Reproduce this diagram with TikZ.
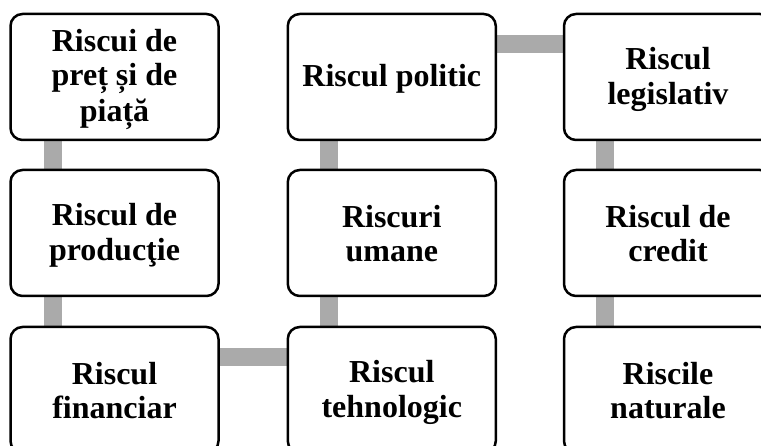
\documentclass[tikz,border=0pt]{standalone}
\usepackage{fontspec}
\setmainfont{Liberation Serif}
\usetikzlibrary{backgrounds}
\definecolor{conngray}{RGB}{170,170,170}
\newcommand\lstrut{\rule[-3.85pt]{0pt}{30.65pt}}
\tikzset{
  riskbox/.style={draw=black, line width=2.5pt, fill=white, rounded corners=12pt,
    minimum width=208pt, minimum height=126pt, inner sep=0pt, align=center,
    font=\fontsize{32}{34.5}\selectfont\bfseries},
  conn/.style={draw=conngray, line width=18pt, line cap=butt}
}
\begin{document}
\begin{tikzpicture}[x=1pt,y=1pt]
\useasboundingbox (0,0) rectangle (761,446);
% rows: centres at y=446-77, 446-233, 446-390
\node[riskbox] (a1) at (114.5,369) {\lstrut Riscui de\\\lstrut preț și de\\\lstrut piață};
\node[riskbox] (a2) at (114.5,213) {\lstrut Riscul de\\\lstrut producţie};
\node[riskbox] (a3) at (114.5,56) {\lstrut Riscul\\\lstrut financiar};
\node[riskbox] (b3) at (391.8,56) {\lstrut Riscul\\\lstrut tehnologic};
\node[riskbox] (b2) at (391.8,213) {\lstrut Riscuri\\\lstrut umane};
\node[riskbox] (b1) at (391.8,369) {\lstrut Riscul politic};
\node[riskbox] (c1) at (668,369) {\lstrut Riscul\\\lstrut legislativ};
\node[riskbox] (c2) at (668,213) {\lstrut Riscul de\\\lstrut credit};
\node[riskbox] (c3) at (668,56) {\lstrut Riscile\\\lstrut naturale};
\begin{pgfonlayer}{background}
  \draw[conn] ([xshift=43.5pt]a1.south west) -- ([xshift=43.5pt]a2.north west);
  \draw[conn] ([xshift=43.5pt]a2.south west) -- ([xshift=43.5pt]a3.north west);
  \draw[conn] ([yshift=-31pt]a3.north east) -- ([yshift=-31pt]b3.north west);
  \draw[conn] ([xshift=42.5pt]b3.north west) -- ([xshift=42.5pt]b2.south west);
  \draw[conn] ([xshift=42.5pt]b2.north west) -- ([xshift=42.5pt]b1.south west);
  \draw[conn] ([yshift=-31pt]b1.north east) -- ([yshift=-31pt]c1.north west);
  \draw[conn] ([xshift=42.5pt]c1.south west) -- ([xshift=42.5pt]c2.north west);
  \draw[conn] ([xshift=42.5pt]c2.south west) -- ([xshift=42.5pt]c3.north west);
\end{pgfonlayer}
\end{tikzpicture}
\end{document}
